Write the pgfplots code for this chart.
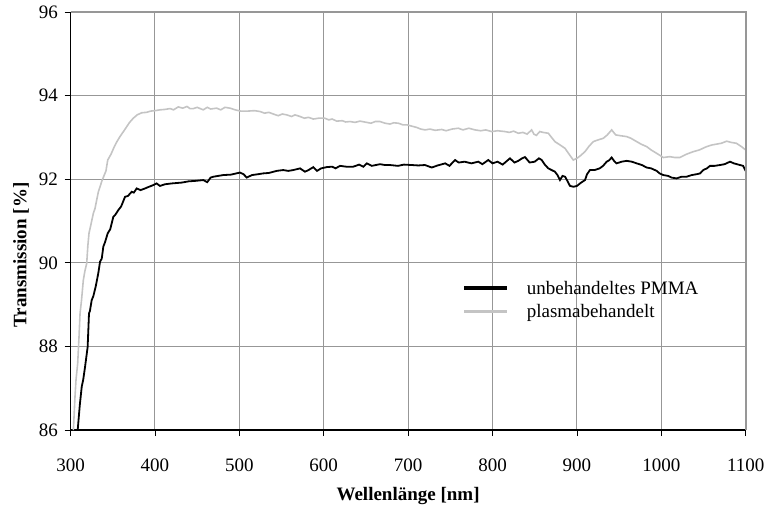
\documentclass[border=0pt]{standalone}
\usepackage{fontspec}
\setmainfont{Liberation Serif}
\usepackage{pgfplots}
\pgfplotsset{compat=1.18}
\definecolor{gridgray}{HTML}{979797}
\definecolor{lightgray}{HTML}{C4C4C4}
\newcommand{\myfont}{\fontsize{19}{22}\selectfont}
\begin{document}
\begin{tikzpicture}
\begin{axis}[
  scale only axis,
  width=675pt, height=418pt,
  xmin=300, xmax=1100, ymin=86, ymax=96,
  xtick={300,400,...,1100}, ytick={86,88,...,96},
  axis x line*=bottom, axis y line*=left,
  axis line style={-, black, line width=1.6pt},
  grid=major,
  major grid style={gridgray, line width=1pt},
  tick style={black, line width=0.8pt},
  tick align=outside, major tick length=6pt,
  /pgf/number format/assume math mode=true,
  /pgf/number format/1000 sep={},
  tick label style={font=\myfont},
  xticklabel style={yshift=-19pt},
  yticklabel style={xshift=-3pt},
  every axis y label/.style={at={(axis description cs:-0.0733,0.4187)}, rotate=90, anchor=center, font=\myfont\bfseries},
  every axis x label/.style={at={(axis description cs:0.5,-0.158)}, anchor=center, font=\myfont\bfseries},
  xlabel={Wellenlänge [nm]},
  ylabel={Transmission [\%]},
  legend style={at={(0.58,0.311)}, anchor=west, draw=none, fill=none, font=\myfont, inner sep=0pt, row sep=5pt},
  legend cell align=left,
  legend image code/.code={\draw[#1] (0pt,0pt) -- (43pt,0pt);},
  /tikz/every odd column/.append style={column sep=16pt},
  after end axis/.code={\draw[gridgray, line width=2pt] (rel axis cs:0,1) -- (rel axis cs:1,1) -- (rel axis cs:1,0);},
]
\addlegendimage{black, line width=3.5pt}
\addlegendentry{unbehandeltes PMMA}
\addlegendimage{lightgray, line width=3pt}
\addlegendentry{plasmabehandelt}
\addplot[lightgray, line width=1.6pt, forget plot] table {
303.4 86.0
305.3 86.80
306.5 87.2
308.5 87.6
310 88.2
311.3 88.79
313 89.1
315.2 89.59
317 89.8
319.2 89.99
320.5 90.4
321.9 90.71
324 90.9
327 91.18
329 91.3
331 91.5
333 91.7
335 91.82
337 91.95
340 92.1
342 92.2
344.1 92.46
348 92.6
351.9 92.78
355 92.9
358.6 93.02
362 93.12
365.4 93.22
370 93.36
374.4 93.46
379 93.54
384.4 93.59
390 93.6
395 93.63
400.1 93.64
406 93.66
412 93.67
418 93.69
422 93.66
427.7 93.73
433 93.7
438 93.74
441.6 93.69
445.5 93.69
450 93.72
457.3 93.66
462 93.72
466 93.68
473.2 93.70
478 93.66
483 93.72
489 93.70
495 93.66
501.6 93.63
510 93.63
518 93.64
524.5 93.62
530 93.58
535 93.6
540.3 93.56
546 93.52
551 93.56
556.1 93.54
562 93.5
566 93.54
572 93.50
577 93.46
582 93.48
587.7 93.44
594 93.46
601.2 93.46
606 93.42
610 93.44
615.4 93.39
622 93.4
626 93.37
631.2 93.38
637 93.36
643 93.39
650.9 93.36
656 93.34
661 93.38
666.7 93.38
672.6 93.34
678.5 93.32
683 93.35
688.4 93.34
694 93.3
699 93.3
704.3 93.27
710 93.24
715 93.2
720 93.18
726 93.2
732 93.17
739.8 93.19
745 93.16
752 93.2
759.5 93.22
765 93.18
772 93.22
779.3 93.18
786 93.16
792 93.18
799 93.14
806 93.16
814.8 93.14
820 93.12
825 93.15
830.6 93.10
836 93.12
841 93.08
846.4 93.18
849 93.08
852 93.05
856 93.14
860 93.12
866.1 93.10
870 93.0
874 92.90
880 92.82
885.9 92.74
890 92.62
895.7 92.46
900 92.5
904 92.56
909.6 92.66
914 92.78
919.4 92.90
925 92.94
931.3 92.98
936 93.06
941.2 93.18
946 93.06
952 93.04
959 93.02
964 92.98
970.8 92.90
976 92.84
982.7 92.78
988 92.7
994.5 92.62
1002.4 92.52
1010 92.54
1016 92.52
1022 92.52
1030 92.6
1037.9 92.66
1045 92.7
1053.7 92.78
1060 92.82
1065.5 92.84
1071 92.86
1077.5 92.91
1083 92.88
1089 92.86
1095 92.78
1100 92.70
};
\addplot[black, line width=1.8pt, forget plot] table {
308.5 86.0
311 86.6
313.3 87.04
315 87.2
317.2 87.51
320.3 87.99
321.9 88.79
323 88.85
325.1 89.11
327 89.2
329.8 89.43
332.9 89.75
335 90.03
337 90.1
338.9 90.39
341 90.5
344.1 90.71
347 90.8
350.7 91.10
353 91.15
356.6 91.26
360 91.35
364.6 91.58
368 91.6
372.5 91.70
375 91.68
378.4 91.78
383 91.74
388.3 91.78
393 91.82
398.1 91.86
402 91.9
406 91.84
412 91.88
420 91.9
431.8 91.92
440 91.95
447.5 91.96
457.3 91.98
462 91.93
466 92.04
469.2 92.06
475 92.08
481 92.10
490 92.11
500.8 92.16
505 92.12
508.8 92.04
515 92.1
522 92.12
528.4 92.14
535 92.15
544.3 92.20
552 92.22
558 92.2
564 92.22
568 92.24
572 92.26
577.8 92.18
582 92.22
587.7 92.29
592 92.2
597 92.26
603.5 92.29
610 92.3
614 92.26
619.3 92.32
627 92.3
635 92.30
642 92.35
647 92.3
651 92.38
657 92.32
666.7 92.36
672.6 92.34
678.5 92.34
688 92.32
695 92.35
704.3 92.34
712 92.33
720 92.34
728 92.28
735 92.33
744 92.38
749 92.32
755.6 92.46
760 92.4
767 92.42
775 92.38
783.2 92.42
788 92.36
795 92.46
800 92.38
806 92.42
812 92.35
820.7 92.50
826 92.4
830.6 92.44
835 92.5
838.5 92.53
844 92.4
850 92.42
855 92.5
858.3 92.46
862 92.35
866.1 92.26
870 92.22
874 92.18
877 92.1
879.9 91.98
883 92.08
886 92.06
889 91.95
891.8 91.84
896 91.82
900 91.84
905 91.92
909.6 91.98
912 92.12
915.5 92.22
921 92.22
927 92.26
931 92.32
935.3 92.42
938 92.45
941.2 92.52
944 92.44
947 92.38
953 92.42
959 92.44
965 92.42
970.8 92.38
977 92.34
982.7 92.28
988 92.26
994.5 92.20
998 92.14
1002.4 92.10
1008 92.08
1012 92.04
1018.2 92.02
1024 92.06
1030 92.06
1036 92.1
1041.8 92.12
1046 92.14
1049.7 92.22
1054 92.26
1057.7 92.32
1063 92.32
1069.5 92.34
1075 92.36
1081.4 92.42
1086 92.38
1093.2 92.34
1097 92.32
1100 92.20
};
\end{axis}
\pgfresetboundingbox
\path ([shift={(-70.5pt,-76pt)}]current axis.south west) rectangle ([shift={(21.3pt,12pt)}]current axis.north east);
\end{tikzpicture}
\end{document}
